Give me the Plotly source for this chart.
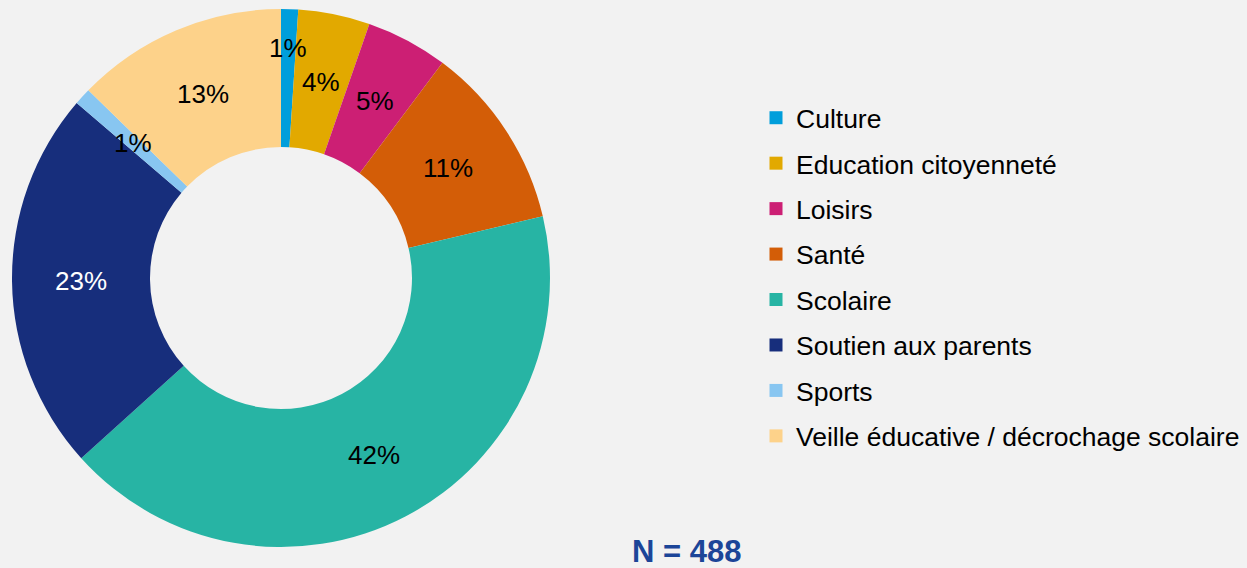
import math
import plotly.graph_objects as go

# ---- data ----
categories = ["Culture", "Education citoyenneté", "Loisirs", "Santé", "Scolaire",
              "Soutien aux parents", "Sports", "Veille éducative / décrochage scolaire"]
counts = [5, 21, 24, 54, 205, 112, 5, 62]
pct_labels = ["1%", "4%", "5%", "11%", "42%", "23%", "1%", "13%"]
total_label = "N = 488"

# ---- style ----
colors = ["#009edb", "#e2a900", "#cc1f74", "#d35d07", "#27b4a4", "#172e7c", "#88c6f1", "#fdd28a"]
label_colors = ["black", "black", "black", "black", "black", "white", "black", "black"]
label_radius_override = {"Culture": 0.855}   # fraction of outer radius
W, H = 1247, 568
BG = "#f2f2f2"
FONT = "Liberation Sans, Arial, sans-serif"
cx_px, cy_px, R_px = 281, 278, 269   # pie centre (from top-left) and outer radius
HOLE = 0.487

dom_x = [(cx_px - R_px) / W, (cx_px + R_px) / W]
dom_y = [(H - cy_px - R_px) / H, (H - cy_px + R_px) / H]

fig = go.Figure()
fig.add_trace(go.Pie(
    labels=categories, values=counts, sort=False, direction="clockwise", rotation=0,
    hole=HOLE, marker=dict(colors=colors, line=dict(width=0)),
    textinfo="none", hoverinfo="label+percent", showlegend=False,
    domain=dict(x=dom_x, y=dom_y),
))

# legend entries via empty scatter traces (one group each for spacing)
for cat, col in zip(categories, colors):
    fig.add_trace(go.Scatter(
        x=[None], y=[None], mode="markers", name=cat, legendgroup=cat,
        marker=dict(symbol="square", size=13, color=col), showlegend=True,
    ))

# percentage labels placed at mid-angle / mid-ring of each slice
tot = sum(counts)
cum = 0.0
annotations = []
mid_r = (1 + HOLE) / 2
for cat, v, lab, lc in zip(categories, counts, pct_labels, label_colors):
    ang = 2 * math.pi * (cum + v / 2) / tot
    cum += v
    r = label_radius_override.get(cat, mid_r) * R_px
    px = cx_px + r * math.sin(ang)
    py = cy_px - r * math.cos(ang)
    annotations.append(dict(
        x=px / W, y=(H - py) / H, xref="paper", yref="paper", text=lab,
        showarrow=False, font=dict(family=FONT, size=26, color=lc),
        xanchor="center", yanchor="middle",
    ))

annotations.append(dict(
    x=686 / W, y=(H - 551) / H, xref="paper", yref="paper", text="<b>" + total_label + "</b>",
    showarrow=False, font=dict(family=FONT, size=31, color="#1c4598"),
    xanchor="center", yanchor="middle",
))

fig.update_layout(
    width=W, height=H, paper_bgcolor=BG, plot_bgcolor=BG,
    margin=dict(l=0, r=0, t=0, b=0),
    xaxis=dict(visible=False), yaxis=dict(visible=False),
    font=dict(family=FONT, size=26, color="black"),
    legend=dict(x=756 / W, y=(H - 94) / H, xanchor="left", yanchor="top",
                font=dict(family=FONT, size=26.5, color="black"),
                tracegroupgap=8, itemwidth=30, bgcolor="rgba(0,0,0,0)"),
    annotations=annotations,
)

fig.write_html("out.html", config={"displayModeBar": False},
               post_script="document.body.style.margin='0';document.body.style.background='#f2f2f2';")
